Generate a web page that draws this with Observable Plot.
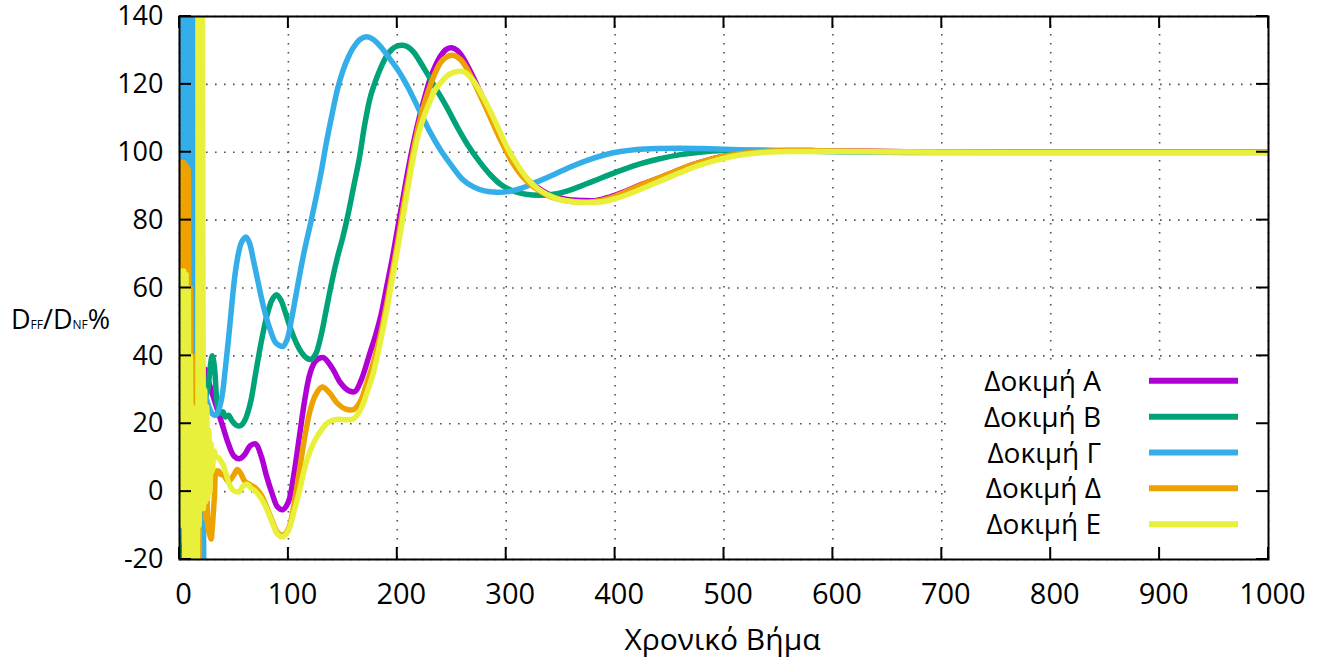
<!DOCTYPE html>
<html><head><meta charset="utf-8">
<script src="https://cdn.jsdelivr.net/npm/d3@7"></script>
<script src="https://cdn.jsdelivr.net/npm/@observablehq/plot@0.6"></script>
<style>body{margin:0;background:#fff;}</style>
</head><body><div id="chart"></div>
<script>
// ---- data ----
const seriesNames = ["Δοκιμή Α", "Δοκιμή Β", "Δοκιμή Γ", "Δοκιμή Δ", "Δοκιμή Ε"];
const seriesColors = ["#b000d6", "#00a377", "#33aee8", "#eea200", "#e8f03c"];
const xTicks = [0, 100, 200, 300, 400, 500, 600, 700, 800, 900, 1000];
const yTicks = [-20, 0, 20, 40, 60, 80, 100, 120, 140];
const xTitle = "Χρονικό Βήμα";

const testA = [[0,5],[1,-25],[2,150],[3,-30],[4,150],[5,-30],[6,150],[7,-30],[8,140],[9,-30],[10,140],[11,-30],[12,130],[13,-25],[14,120],[15,-25],[16,100],[17,-20],[18,-10],[19,38],[20,36],[22,34],[24,36],[26,33],[28,31],[30,29],[33,26],[36,23],[40,19],[45,14],[50,10.5],[55,9.7],[60,11],[65,13.5],[70,14],[75,10.5],[80,4.5],[85,-0.5],[90,-4.5],[95,-5.3],[100,-3],[105,5],[110,16],[115,27],[120,35],[125,38.5],[132,39.5],[140,36.5],[148,32],[155,29.8],[161,29.5],[167,33],[175,41],[180,46],[185,52],[190,60],[195,68],[200,77],[205,86],[210,95],[215,103],[220,110],[225,116],[230,121.5],[235,125.5],[240,128.5],[245,130.3],[250,130.8],[255,130],[260,128],[266,124.5],[275,118.5],[285,111.5],[295,104.5],[305,98],[315,93.5],[325,90.5],[340,87.5],[355,86.2],[370,85.8],[383,85.8],[395,86.8],[410,88.6],[425,90.6],[440,92.4],[455,94.3],[470,96.2],[485,97.7],[500,98.8],[520,99.8],[540,100.3],[560,100.5],[580,100.5],[600,100.4],[650,100.2],[700,100.1],[800,100],[900,100],[1000,100]];

const testB = [[0,20],[1,-20],[2,140],[3,-25],[4,150],[5,-25],[6,150],[7,-25],[8,150],[9,-25],[10,150],[11,-25],[12,150],[13,-25],[14,-30],[15,-25],[16,127],[17,-25],[18,-30],[19,35],[20,30],[21,36],[22,32],[24,28],[26,30],[28,36],[30,40],[32,37],[34,28],[36,24],[38,23],[40,23.5],[42,22],[45,22.5],[48,21],[52,19.6],[56,19.4],[60,21],[65,26],[70,35],[75,44],[80,51.5],[85,56.5],[89,58],[93,56.5],[97,53],[102,48],[107,44],[112,41],[117,39.3],[121,39],[125,40.5],[130,46],[135,54],[140,62],[145,69],[150,75],[155,82],[160,90],[165,98],[170,108],[175,116],[180,121],[185,125],[190,128.3],[195,130.3],[200,131.3],[205,131.5],[210,131],[215,129.5],[225,124.5],[235,119],[245,113.5],[255,107.5],[265,102],[276,97],[285,93.5],[295,90.5],[307,88.5],[318,87.6],[331,87.3],[345,87.7],[360,89],[380,91.5],[400,94],[420,96.3],[440,98],[460,99.3],[480,100.1],[500,100.5],[520,100.6],[550,100.5],[600,100.2],[650,100.1],[700,100],[800,100],[900,100],[1000,100]];

const testG = [[0,29],[1,5],[2,-12],[3,170],[4,-15],[5,170],[6,-15],[7,170],[8,-15],[9,170],[10,-20],[11,170],[12,-20],[13,170],[14,-25],[15,30],[16,-25],[17,-30],[18,-30],[19,-30],[20,-35],[21,-25],[22,-30],[23,30],[25,27],[27,25],[30,23],[33,22.5],[36,24],[39,28],[42,36],[45,45],[48,55],[51,64],[54,70],[57,73.5],[61,75],[64,73.5],[68,68],[72,62],[76,56],[80,51],[84,47],[88,44],[92,43],[95,42.8],[99,45],[103,51],[107,58],[111,65],[115,71.5],[120,78.5],[125,86],[130,94],[135,103],[140,111],[145,118.5],[150,124],[155,128],[160,131],[166,133.3],[172,134],[178,133.2],[185,131],[192,128],[200,124.5],[210,119],[220,112.5],[230,106],[240,100.5],[250,96],[260,92],[270,89.8],[280,88.6],[291,88.2],[302,88.4],[315,89.5],[330,91.5],[345,93.6],[360,95.8],[375,97.7],[390,99.2],[405,100.2],[420,100.8],[440,101.1],[460,101.2],[480,101.1],[500,100.9],[530,100.6],[560,100.4],[600,100.2],[650,100],[700,99.9],[800,99.9],[900,99.9],[1000,99.9]];

const testD = [[0,12],[1,-5],[2,97],[3,-10],[4,97],[5,-8],[6,96],[7,-10],[8,95],[9,-12],[10,60],[11,-20],[12,40],[13,-25],[14,20],[15,-20],[16,-25],[17,-15],[18,-25],[19,30],[20,28],[21,-5],[22,25],[23,18],[24,-8],[25,5],[26,-10],[27,-12],[28,-13],[29,-14],[30,-11],[32,-2],[34,6],[36,6],[38,5],[40,5],[45,3],[50,5],[53,6.5],[56,5.5],[60,3],[65,2],[70,1],[75,-1],[80,-4.5],[85,-8.5],[90,-12],[95,-12.8],[100,-11],[105,-4],[110,6],[115,16],[120,24],[125,28.5],[131,30.8],[138,29],[145,26],[152,24.4],[160,24.2],[166,26.5],[172,32],[178,38],[185,47],[190,55],[195,64],[200,73],[205,83],[210,92],[215,101],[220,108.5],[225,114.5],[230,119.5],[235,123.5],[240,126.5],[246,128.2],[252,128.5],[258,127.3],[265,124],[275,117.5],[285,110.5],[295,103.5],[305,97.3],[315,92.8],[325,89.8],[340,87],[355,85.7],[370,85.3],[380,85.4],[395,86.5],[410,88.4],[425,90.5],[440,92.4],[455,94.3],[470,96.2],[485,97.7],[500,98.8],[520,99.8],[540,100.3],[560,100.5],[580,100.5],[600,100.4],[650,100.2],[700,100.1],[800,100],[900,100],[1000,100]];

const testE = [[0,10],[1,-5],[2,65],[3,-10],[4,65],[5,-25],[6,64],[7,-30],[8,60],[9,-40],[10,40],[11,-40],[12,25],[13,-35],[14,10],[15,-30],[16,-25],[17,160],[18,-10],[19,170],[20,-5],[21,165],[22,-5],[23,30],[24,-3],[25,25],[26,-2],[27,18],[28,0],[29,14],[30,6],[32,12],[34,10],[36,10],[38,9],[40,8],[43,5],[46,2],[49,0.5],[52,0],[55,0],[58,1.5],[62,2.2],[66,1],[70,0],[75,-2],[80,-5],[85,-9],[90,-12.5],[95,-13.3],[100,-11.5],[105,-6],[110,0],[115,7],[120,12],[125,15.5],[130,18],[137,20.5],[145,21.3],[153,21.2],[160,21.5],[166,24],[172,29],[178,35],[185,45],[190,53],[195,62],[200,71],[205,80.5],[210,90],[215,99],[220,106],[225,111],[230,115],[235,118.5],[240,120.5],[247,122.8],[255,123.8],[262,123.6],[270,121],[280,115.5],[290,109],[300,102],[310,96.5],[320,92],[330,89],[345,86.5],[360,85.5],[375,85.2],[388,85.4],[400,86.3],[415,88],[430,90],[445,92],[460,94],[475,95.9],[490,97.4],[505,98.6],[520,99.4],[540,100],[560,100.2],[580,100.2],[600,100.2],[650,100.1],[700,100],[800,99.9],[900,99.9],[1000,99.9]];

const allSeries = [testA, testB, testG, testD, testE];

// ---- render helpers ----
const FONT = "Open Sans";
const gridStyle = {stroke: "#333", strokeOpacity: 0.85, strokeWidth: 1.6, strokeDasharray: "1.6,7.4"};

const legendBox = (index, scales, values, dim) => {
  const g = d3.create("svg:g");
  g.append("rect").attr("x", 948).attr("y", 362)
    .attr("width", dim.width - dim.marginRight - 948).attr("height", dim.height - dim.marginBottom - 362)
    .attr("fill", "white");
  return g.node();
};

const innerTicks = (index, {x, y}, values, dim) => {
  const g = d3.create("svg:g").attr("stroke", "black").attr("stroke-width", 2);
  const L = dim.marginLeft, R = dim.width - dim.marginRight, T = dim.marginTop, B = dim.height - dim.marginBottom;
  const len = 12;
  for (const t of xTicks) {
    const px = x(t);
    g.append("line").attr("x1", px).attr("x2", px).attr("y1", B).attr("y2", B - len);
    g.append("line").attr("x1", px).attr("x2", px).attr("y1", T).attr("y2", T + len);
  }
  for (const t of yTicks) {
    const py = y(t);
    g.append("line").attr("x1", L).attr("x2", L + len).attr("y1", py).attr("y2", py);
    g.append("line").attr("x1", R).attr("x2", R - len).attr("y1", py).attr("y2", py);
  }
  return g.node();
};

const titles = (index, scales, values, dim) => {
  const g = d3.create("svg:g").attr("font-family", FONT).attr("fill", "black");
  const L = dim.marginLeft, R = dim.width - dim.marginRight;
  g.append("text").attr("x", (L + R) / 2 - 1).attr("y", 650).attr("text-anchor", "middle")
    .attr("font-size", 30).text(xTitle);
  const yl = g.append("text").attr("x", 11).attr("y", 329).attr("text-anchor", "start").attr("font-size", 27);
  yl.append("tspan").text("D");
  yl.append("tspan").attr("font-size", 12).text("FF");
  yl.append("tspan").text("/D");
  yl.append("tspan").attr("font-size", 12).text("NF");
  yl.append("tspan").text("%");
  return g.node();
};

const legend = () => {
  const g = d3.create("svg:g").attr("font-family", FONT);
  const rows = [380.7, 416.7, 452.5, 488.3, 524.3];
  seriesNames.forEach((name, i) => {
    g.append("text").attr("x", 1101).attr("y", rows[i]).attr("dy", "0.36em")
      .attr("text-anchor", "end").attr("font-size", 28).attr("fill", "black").text(name);
    g.append("line").attr("x1", 1149).attr("x2", 1238).attr("y1", rows[i]).attr("y2", rows[i])
      .attr("stroke", seriesColors[i]).attr("stroke-width", 6);
  });
  return g.node();
};

const fmt = d => String(d);

const chart = Plot.plot({
  width: 1322, height: 661,
  marginLeft: 179, marginRight: 54, marginTop: 16, marginBottom: 102,
  x: {domain: [0, 1000]},
  y: {domain: [-20, 140]},
  style: {fontFamily: FONT, background: "white", color: "black", overflow: "visible"},
  marks: [
    Plot.gridY(yTicks, gridStyle),
    Plot.gridX(xTicks, gridStyle),
    legendBox,
    ...allSeries.map((s, i) => Plot.line(s, {
      x: d => d[0], y: d => d[1], stroke: seriesColors[i], strokeWidth: 5.5,
      curve: "catmull-rom", clip: true
    })),
    Plot.frame({stroke: "black", strokeWidth: 2}),
    innerTicks,
    Plot.axisX(xTicks, {tickSize: 0, tickPadding: 24, fontSize: 29, dx: 4, label: null, tickFormat: fmt}),
    Plot.axisY(yTicks, {tickSize: 0, tickPadding: 16, fontSize: 27, label: null, tickFormat: fmt}),
    titles,
    legend
  ]
});
document.getElementById("chart").append(chart);
</script>
</body></html>
